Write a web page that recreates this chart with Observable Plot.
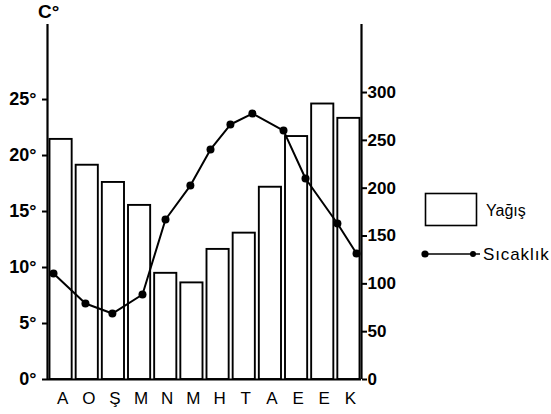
<!DOCTYPE html>
<html>
<head>
<meta charset="utf-8">
<script src="https://cdn.jsdelivr.net/npm/d3@7"></script>
<script src="https://cdn.jsdelivr.net/npm/@observablehq/plot@0.6"></script>
<style>
  html, body { margin: 0; padding: 0; background: white; }
  #wrap { position: relative; width: 551px; height: 414px; font-family: "Liberation Sans", Arial, Helvetica, sans-serif; color: black; }
  #title { position: absolute; left: 38px; top: 1px; font-size: 19px; font-weight: bold; }
  #legend { position: absolute; left: 0; top: 0; pointer-events: none; }
</style>
</head>
<body>
<div id="wrap">
  <div id="chart"></div>
  <div id="title">C°</div>
  <svg id="legend" width="551" height="414">
    <rect x="425.5" y="193.5" width="51" height="32" fill="white" stroke="black" stroke-width="1.6"></rect>
    <text x="486" y="216" font-size="16" font-family="Liberation Sans, Arial, sans-serif">Yağış</text>
    <line x1="425" y1="254" x2="480" y2="254" stroke="black" stroke-width="1.3"></line>
    <circle cx="425" cy="254" r="3.6" fill="black"></circle>
    <circle cx="473" cy="254" r="3" fill="black"></circle>
    <text x="483" y="260" font-size="17" letter-spacing="0.9" font-family="Liberation Sans, Arial, sans-serif">Sıcaklık</text>
  </svg>
</div>
<script>
const months = ["A","O","Ş","M","N","M","H","T","A","E","E","K"];
const precipitation = [251, 224, 206, 182, 111, 101, 136, 153, 201, 254, 288, 273];
// temperature points as drawn (position along the month axis, in month units)
const tempPos = [0.23, 1.45, 2.48, 3.63, 4.51, 5.46, 6.23, 6.99, 7.83, 9.02, 9.86, 11.08, 11.81];
const temperature = [9.46, 6.79, 5.89, 7.59, 14.29, 17.32, 20.54, 22.77, 23.75, 22.23, 17.95, 13.93, 11.25];
const tempTicks = [0, 5, 10, 15, 20, 25];
const precipTicks = [0, 50, 100, 150, 200, 250, 300];

// right axis: 300 mm lines up with 25.625 °C on the left axis
const k = 25.625 / 300;

const tempData = temperature.map((t, i) => ({pos: tempPos[i], t}));
const barData = precipitation.map((p, i) => ({i, p}));

const chart = Plot.plot({
  width: 551,
  height: 414,
  marginTop: 24,
  marginBottom: 35,
  marginLeft: 47,
  marginRight: 190,
  x: {type: "linear", domain: [0, 12]},
  y: {domain: [0, 31.7]},
  style: {fontFamily: "Liberation Sans, Arial, sans-serif", color: "black", background: "white", overflow: "visible"},
  marks: [
    Plot.rectY(barData, {x1: d => d.i, x2: d => d.i + 1, y1: 0, y2: d => d.p * k, fill: "white", stroke: "black", strokeWidth: 1.9, insetLeft: 2.5, insetRight: 1.5}),
    Plot.line(tempData, {x: "pos", y: "t", stroke: "black", strokeWidth: 2}),
    Plot.dot(tempData, {x: "pos", y: "t", r: 4, fill: "black"}),
    Plot.ruleX([0, 12], {stroke: "black", strokeWidth: 2.2}),
    Plot.ruleY([0], {stroke: "black", strokeWidth: 2}),
    Plot.axisY({anchor: "left", ticks: tempTicks, tickFormat: d => d + "°", tickSize: 5, tickPadding: 6, fontSize: 18, fontWeight: "bold", strokeWidth: 2, label: null}),
    Plot.axisY({anchor: "right", ticks: precipTicks.map(v => v * k), tickFormat: d => String(Math.round(d / k)), tickSize: 5, tickPadding: 1, fontSize: 17, fontWeight: "bold", strokeWidth: 2, label: null}),
    Plot.axisX({ticks: months.map((_, i) => i + 0.5), tickFormat: d => months[Math.round(d - 0.5)], tickSize: 0, tickPadding: 12, fontSize: 17, dx: 2, label: null})
  ]
});
document.getElementById("chart").appendChild(chart);
</script>
</body>
</html>
